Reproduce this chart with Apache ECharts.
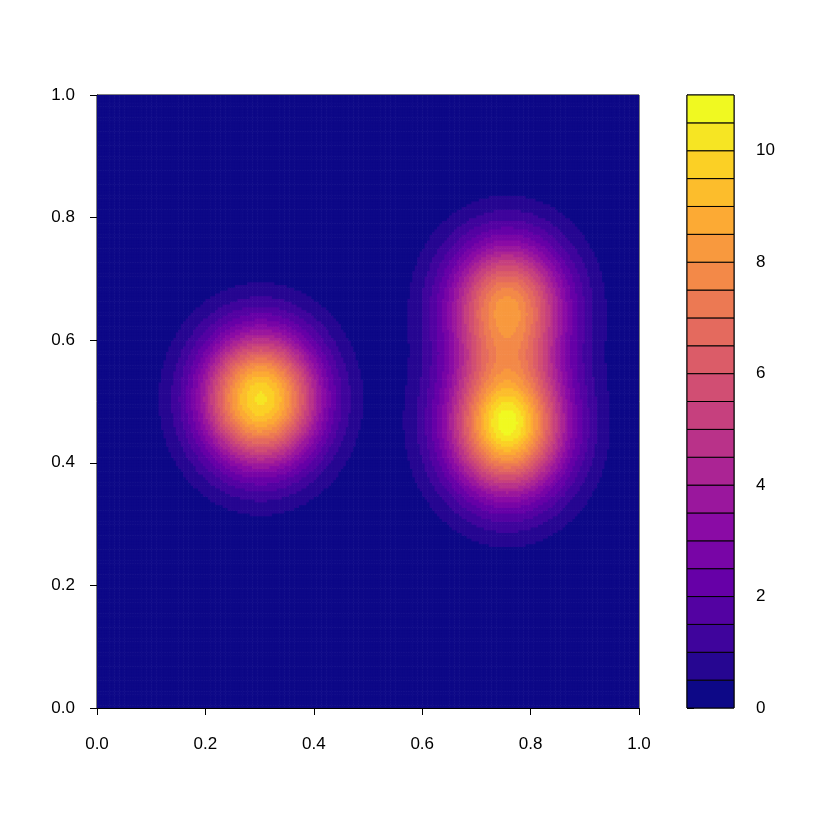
<!DOCTYPE html>
<html>
<head>
<meta charset="utf-8">
<script src="https://cdn.jsdelivr.net/npm/echarts@6/dist/echarts.min.js"></script>
<style>
  html, body { margin: 0; padding: 0; background: #fff; }
  #chart { width: 830px; height: 830px; }
</style>
</head>
<body>
<div id="chart"></div>
<script>
// bumps (centre, spread, peak height);
// the last one is the small sharp core of the lower right peak
const bumpX = [0.302, 0.757, 0.757, 0.757];
const bumpY = [0.505, 0.460, 0.659, 0.465];
const bumpSx = [0.0767, 0.0777, 0.077, 0.035];
const bumpSy = [0.0775, 0.0809, 0.0762, 0.035];
const bumpPeak = [10.1, 9.7, 7.8, 0.9];

// contour levels of the colour key
const levels = [0, 0.5, 1, 1.5, 2, 2.5, 3, 3.5, 4, 4.5, 5, 5.5, 6, 6.5, 7, 7.5,
  8, 8.5, 9, 9.5, 10, 10.5, 11];
const axisTicks = [0, 0.2, 0.4, 0.6, 0.8, 1];
const keyTicks = [0, 2, 4, 6, 8, 10];

// plasma palette anchors
const plasma = ['#0d0887', '#41049d', '#6a00a8', '#8f0da4', '#b12a90', '#cc4778',
  '#e16462', '#f2844b', '#fca636', '#fcce25', '#f0f921'];

function hex(c) {
  return [1, 3, 5].map(i => parseInt(c.substr(i, 2), 16));
}
function plasmaAt(t) {
  const f = t * (plasma.length - 1);
  const i = Math.min(Math.floor(f), plasma.length - 2);
  const a = hex(plasma[i]), b = hex(plasma[i + 1]);
  const k = f - i;
  return 'rgb(' + a.map((v, j) => Math.round(v + (b[j] - v) * k)).join(',') + ')';
}
const nBands = levels.length - 1;
const bandColors = [];
for (let i = 0; i < nBands; i++) bandColors.push(plasmaAt(i / (nBands - 1)));

// surface on a fine grid
const N = 220;
const step = 1 / N;
const cells = [];
for (let i = 0; i < N; i++) {
  for (let j = 0; j < N; j++) {
    const x = (i + 0.5) * step, y = (j + 0.5) * step;
    let z = 0;
    for (let k = 0; k < bumpX.length; k++) {
      const dx = (x - bumpX[k]) / bumpSx[k], dy = (y - bumpY[k]) / bumpSy[k];
      z += bumpPeak[k] * Math.exp(-(dx * dx + dy * dy) / 2);
    }
    cells.push([x, y, z]);
  }
}

const pieces = [];
for (let i = 0; i < nBands; i++) {
  pieces.push({gte: levels[i], lt: levels[i + 1], color: bandColors[i]});
}

const keyData = [];
for (let i = 0; i < nBands; i++) keyData.push([levels[i], levels[i + 1], i]);

const font = '"Liberation Sans", Arial, Helvetica, sans-serif';
const axisCommon = {
  axisLine: {show: true, lineStyle: {color: '#000', width: 1}},
  axisTick: {show: true, length: 7, lineStyle: {color: '#000', width: 1}},
  splitLine: {show: false},
  axisLabel: {color: '#000', fontSize: 17, fontFamily: font}
};

let myChart = echarts.init(document.getElementById('chart'));
let option = {
  animation: false,
  backgroundColor: '#fff',
  grid: [
    {left: 97, top: 95, width: 542, height: 613, show: true, borderColor: '#000', borderWidth: 1, backgroundColor: 'transparent'},
    {left: 687, top: 95, width: 47, height: 613, show: true, borderColor: '#000', borderWidth: 1, backgroundColor: 'transparent'}
  ],
  visualMap: {
    show: false,
    type: 'piecewise',
    seriesIndex: 0,
    dimension: 2,
    pieces: pieces
  },
  xAxis: [
    Object.assign({}, axisCommon, {
      gridIndex: 0, type: 'value', min: 0, max: 1, interval: 0.2,
      axisLabel: Object.assign({}, axisCommon.axisLabel, {margin: 28, formatter: v => v.toFixed(1)})
    }),
    {gridIndex: 1, type: 'value', min: 0, max: 1, show: false}
  ],
  yAxis: [
    Object.assign({}, axisCommon, {
      gridIndex: 0, type: 'value', min: 0, max: 1, interval: 0.2,
      axisLabel: Object.assign({}, axisCommon.axisLabel, {margin: 22, formatter: v => v.toFixed(1)})
    }),
    Object.assign({}, axisCommon, {
      gridIndex: 1, type: 'value', min: 0, max: 11, position: 'right',
      axisTick: Object.assign({}, axisCommon.axisTick, {customValues: keyTicks}),
      axisLabel: Object.assign({}, axisCommon.axisLabel, {margin: 22, customValues: keyTicks})
    })
  ],
  series: [
    {
      type: 'custom',
      xAxisIndex: 0,
      yAxisIndex: 0,
      data: cells,
      clip: true,
      progressive: 0,
      renderItem: (params, api) => {
        const p = api.coord([api.value(0) - step / 2, api.value(1) + step / 2]);
        const s = api.size([step, step]);
        return {
          type: 'rect',
          shape: {x: p[0], y: p[1], width: s[0] + 0.6, height: s[1] + 0.6},
          style: {fill: api.visual('color')}
        };
      }
    },
    {
      type: 'custom',
      xAxisIndex: 1,
      yAxisIndex: 1,
      data: keyData,
      renderItem: (params, api) => {
        const p0 = api.coord([0, api.value(1)]);
        const p1 = api.coord([1, api.value(0)]);
        return {
          type: 'rect',
          shape: {x: p0[0], y: p0[1], width: p1[0] - p0[0], height: p1[1] - p0[1]},
          style: {fill: bandColors[api.value(2)], stroke: '#000', lineWidth: 1}
        };
      }
    }
  ]
};
myChart.setOption(option);
</script>
</body>
</html>
